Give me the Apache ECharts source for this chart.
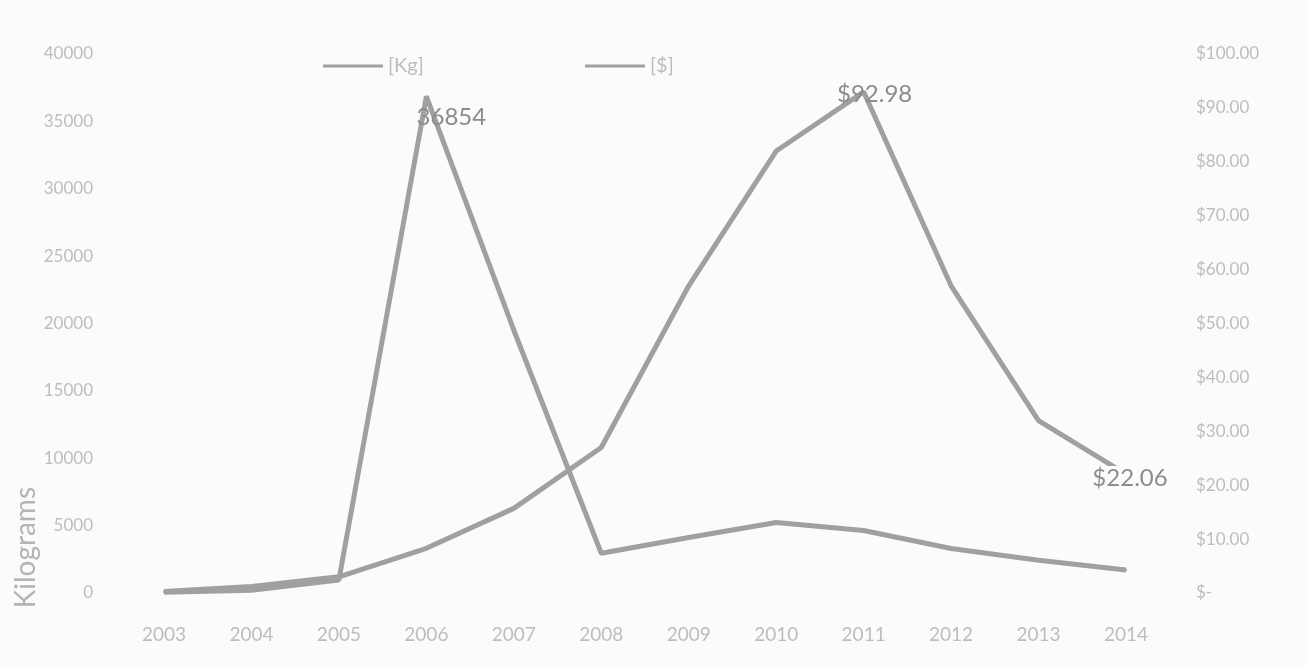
<!DOCTYPE html>
<html>
<head>
<meta charset="utf-8">
<script src="https://cdn.jsdelivr.net/npm/echarts@6/dist/echarts.min.js"></script>
<style>html,body{margin:0;padding:0;background:#fbfbfb}#c{width:1307px;height:666px}</style>
</head>
<body>
<div id="c"></div>
<script>
const years = ['2003','2004','2005','2006','2007','2008','2009','2010','2011','2012','2013','2014'];
const kgValues = [50, 200, 970, 36854, 19500, 2950, 4120, 5230, 4640, 3300, 2430, 1700];
const usdValues = [0.3, 1.2, 3.0, 8.3, 15.7, 27, 57, 82, 92.98, 57, 32, 22.06];
const kgLabelled = [3];
const usdLabelled = [8, 11];
const leftTicks = [0, 5000, 10000, 15000, 20000, 25000, 30000, 35000, 40000];
const rightTicks = [0, 10, 20, 30, 40, 50, 60, 70, 80, 90, 100];

const chart = echarts.init(document.getElementById('c'), null, {renderer: 'canvas'});
const FONT = 'Lato, "Open Sans", sans-serif';
const lineColor = '#a0a0a0';
const axisText = '#bdbdbd';
const labelText = '#8c8c8c';

function fmtUsd(v) { return v === 0 ? '$-' : '$' + v.toFixed(2); }

const labelOffsets = {kg3: [25, 21], usd8: [11, 2], usd11: [4, 4]};

const kgData = kgValues.map((v, i) => kgLabelled.includes(i) ? {
  value: v,
  label: {show: true, position: 'inside', offset: labelOffsets['kg' + i], formatter: String(v),
    color: labelText, fontSize: 24, fontFamily: FONT}
} : v);
const usdData = usdValues.map((v, i) => usdLabelled.includes(i) ? {
  value: v,
  label: {show: true, position: 'inside', offset: labelOffsets['usd' + i],
    formatter: fmtUsd(v), color: labelText, fontSize: 24, fontFamily: FONT,
    backgroundColor: i === 11 ? '#fbfbfb' : 'transparent', padding: [0, 2]}
} : v);

const legendIcon = 'path://M0 0H60V3H0Z';

chart.setOption({
  backgroundColor: '#fbfbfb',
  animation: false,
  textStyle: {fontFamily: FONT},
  grid: {left: 164, right: 181, top: 54, bottom: 73},
  legend: [
    {data: [{name: '[Kg]', icon: legendIcon}], left: 318, top: 51, itemWidth: 60, itemHeight: 3, itemGap: 4,
     textStyle: {color: axisText, fontSize: 20, fontFamily: FONT}},
    {data: [{name: '[$]', icon: legendIcon}], left: 580, top: 51, itemWidth: 60, itemHeight: 3, itemGap: 4,
     textStyle: {color: axisText, fontSize: 20, fontFamily: FONT}}
  ],
  xAxis: {
    type: 'category', data: years, boundaryGap: false,
    axisLine: {show: false}, axisTick: {show: false}, splitLine: {show: false},
    axisLabel: {color: axisText, fontSize: 19, margin: 32, fontFamily: FONT}
  },
  yAxis: [
    {type: 'value', min: leftTicks[0], max: leftTicks[leftTicks.length - 1], interval: 5000,
     axisLine: {show: false}, axisTick: {show: false}, splitLine: {show: false},
     axisLabel: {color: axisText, fontSize: 17, margin: 71, fontFamily: FONT,
       formatter: v => String(v)}},
    {type: 'value', min: rightTicks[0], max: rightTicks[rightTicks.length - 1], interval: 10,
     position: 'right',
     axisLine: {show: false}, axisTick: {show: false}, splitLine: {show: false},
     axisLabel: {color: axisText, fontSize: 17, margin: 70, align: 'left', fontFamily: FONT,
       formatter: fmtUsd}}
  ],
  graphic: [{
    type: 'text', left: 12, top: 487, rotation: Math.PI / 2,
    style: {text: 'Kilograms', fill: '#b4b4b4', fontSize: 28, fontFamily: FONT}
  }],
  series: [
    {name: '[Kg]', type: 'line', yAxisIndex: 0, data: kgData, smooth: false,
     symbol: 'circle', symbolSize: 2, showSymbol: true,
     lineStyle: {color: lineColor, width: 5}, itemStyle: {color: lineColor}},
    {name: '[$]', type: 'line', yAxisIndex: 1, data: usdData, smooth: false,
     symbol: 'circle', symbolSize: 2, showSymbol: true,
     lineStyle: {color: lineColor, width: 5}, itemStyle: {color: lineColor}}
  ]
});
</script>
</body>
</html>
